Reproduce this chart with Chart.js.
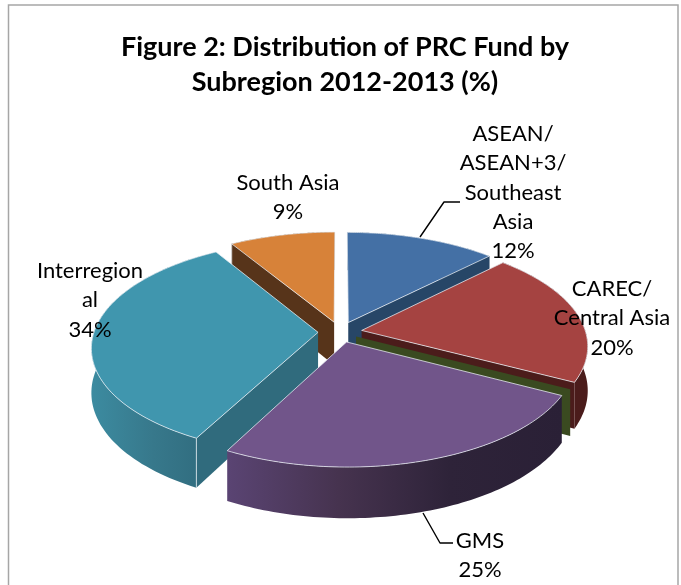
<!DOCTYPE html>
<html>
<head>
<meta charset="utf-8">
<style>html,body{margin:0;padding:0;background:#fff}canvas{display:block}</style>
<script src="https://cdn.jsdelivr.net/npm/chart.js@4"></script>
</head>
<body>
<canvas id="c" width="681" height="585"></canvas>
<script>
const categories = ["ASEAN/ASEAN+3/Southeast Asia", "CAREC/Central Asia", "GMS", "Interregional", "South Asia"];
const values = [12.4, 20.3, 25.0, 33.6, 8.7];
const titleLines = ["Figure 2: Distribution of PRC Fund by", "Subregion 2012-2013 (%)"];
const labelLines = [
  ["ASEAN/", "ASEAN+3/", "Southeast", "Asia"],
  ["CAREC/", "Central Asia"],
  ["GMS"],
  ["Interregion", "al"],
  ["South Asia"]
];
const topColors = ["#4470a5", "#a54341", "#71558a", "#4096ae", "#d78239"];
const wallColors = ["#274667", "#4b1c1b", "#3f2d4f", "#306b7d", "#57341a"];

// view of the tilted pie
const VIEW = {cx: 340, cy: 332, R: 224, kR: 105, d: 7.3, depth: 43.5, explode: 0.098};
const labelAnchors = [[513, 134], [612, 289], [480, 541], [90, 271], [288, 183]];
const LINE = 29.3;
const leaders = [
  [[420, 237], [444, 202], [460, 202]],
  [[423, 513], [440, 543], [453, 543]]
];

function project(u, v, h) {
  const s = VIEW.d / (VIEW.d - v);
  return [VIEW.cx + VIEW.R * u * s, VIEW.cy + s * (VIEW.kR * v + VIEW.depth * h)];
}
function polar(arc, th, rad) {
  const mid = (arc.a0 + arc.a1) / 2;
  return [VIEW.explode * Math.sin(mid) + rad * Math.sin(th),
          -VIEW.explode * Math.cos(mid) - rad * Math.cos(th)];
}
function poly(ctx, pts, fill, stroke) {
  ctx.beginPath();
  pts.forEach((p, i) => i ? ctx.lineTo(p[0], p[1]) : ctx.moveTo(p[0], p[1]));
  ctx.closePath();
  ctx.fillStyle = fill;
  ctx.fill();
  if (stroke) { ctx.strokeStyle = stroke; ctx.lineWidth = 1; ctx.lineJoin = 'round'; ctx.stroke(); }
}
function rim(arc, h) {
  const pts = [];
  const n = 80;
  for (let i = 0; i <= n; i++) {
    const th = arc.a0 + (arc.a1 - arc.a0) * i / n;
    const g = polar(arc, th, 1);
    pts.push(project(g[0], g[1], h));
  }
  return pts;
}
function hGrad(ctx, x0, x1, stops) {
  const g = ctx.createLinearGradient(x0, 0, x1, 0);
  stops.forEach((c, i) => g.addColorStop(i / (stops.length - 1), c));
  return g;
}
const EDGE = 'rgba(235,240,245,0.75)';

const pie3d = {
  id: 'pie3d',
  beforeDraw(chart) {
    const ctx = chart.ctx;
    ctx.save();
    ctx.fillStyle = '#fff';
    ctx.fillRect(0, 0, chart.width, chart.height);
    ctx.strokeStyle = '#a6a6a6';
    ctx.lineWidth = 1.5;
    ctx.strokeRect(8.5, 5, 669.5, 640);
    ctx.restore();
  },
  beforeDatasetDraw() { return false; },
  afterDatasetsDraw(chart) {
    const ctx = chart.ctx;
    const meta = chart.getDatasetMeta(0);
    const arcs = meta.data.map((el, i) => ({
      i, a0: el.startAngle + Math.PI / 2, a1: el.endAngle + Math.PI / 2
    }));
    ctx.save();
    const drawSlice = arc => {
      const i = arc.i;
      const apex = polar(arc, 0, 0);
      const top = rim(arc, 0), bot = rim(arc, 1);
      const a = project(apex[0], apex[1], 0), b = project(apex[0], apex[1], 1);
      // outer wall
      const xs = top.map(p => p[0]);
      let wallFill = wallColors[i];
      if (i === 2) wallFill = hGrad(ctx, Math.min(...xs), Math.max(...xs), ['#5a4473', '#46334f', '#2e2339', '#2a2036']);
      if (i === 3) wallFill = hGrad(ctx, Math.min(...xs), Math.max(...xs), ['#3c8ba0', '#37788b', '#2f6a7c']);
      poly(ctx, top.concat(bot.slice().reverse()), wallFill);
      // radial walls facing the viewer
      if (Math.sin(arc.a1) > 0) {
        const p = top[top.length - 1], q = bot[bot.length - 1];
        poly(ctx, [a, p, q, b], wallColors[i]);
      }
      if (-Math.sin(arc.a0) > 0) {
        const p = top[0], q = bot[0];
        poly(ctx, [a, p, q, b], wallColors[i]);
        ctx.beginPath(); ctx.moveTo(p[0], p[1]); ctx.lineTo(q[0], q[1]);
        ctx.strokeStyle = EDGE; ctx.lineWidth = 1; ctx.stroke();
      }
      poly(ctx, [a].concat(top), topColors[i], EDGE);
    };
    [0, 4, 1].forEach(k => drawSlice(arcs[k]));
    // the olive strip behind the GMS slice
    const gms = arcs[2];
    const ap = polar(gms, 0, 0), end = polar(gms, gms.a0, 1);
    const du = 0.042, dv = -0.052;
    poly(ctx, [
      project(ap[0] + du, ap[1] + dv, 0),
      project(end[0] + du, end[1] + dv, 0),
      project(end[0] + du, end[1] + dv, 1),
      project(ap[0] + du, ap[1] + dv, 1)
    ], '#3a4a20');
    [3, 2].forEach(k => drawSlice(arcs[k]));

    // leader lines
    ctx.strokeStyle = '#000';
    ctx.lineWidth = 1.4;
    leaders.forEach(l => {
      ctx.beginPath();
      l.forEach((p, i) => i ? ctx.lineTo(p[0], p[1]) : ctx.moveTo(p[0], p[1]));
      ctx.stroke();
    });

    // data labels
    const total = values.reduce((s, v) => s + v, 0);
    ctx.fillStyle = '#000';
    ctx.font = '22px Lato';
    ctx.textAlign = 'center';
    ctx.textBaseline = 'middle';
    categories.forEach((c, i) => {
      const lines = labelLines[i].concat(Math.round(values[i] / total * 100) + '%');
      lines.forEach((t, j) => ctx.fillText(t, labelAnchors[i][0], labelAnchors[i][1] + j * LINE));
    });
    ctx.restore();
  }
};

new Chart(document.getElementById('c'), {
  type: 'pie',
  data: {
    labels: categories,
    datasets: [{data: values, backgroundColor: topColors, borderWidth: 0}]
  },
  plugins: [pie3d],
  options: {
    responsive: false,
    animation: false,
    rotation: 0,
    layout: {padding: {left: 9}},
    plugins: {
      legend: {display: false},
      tooltip: {enabled: false},
      title: {
        display: true,
        text: titleLines,
        color: '#000',
        font: {family: 'Lato', size: 27, weight: 'bold', lineHeight: 1.3},
        padding: {top: 29.5, bottom: 10}
      }
    }
  }
});
</script>
</body>
</html>
